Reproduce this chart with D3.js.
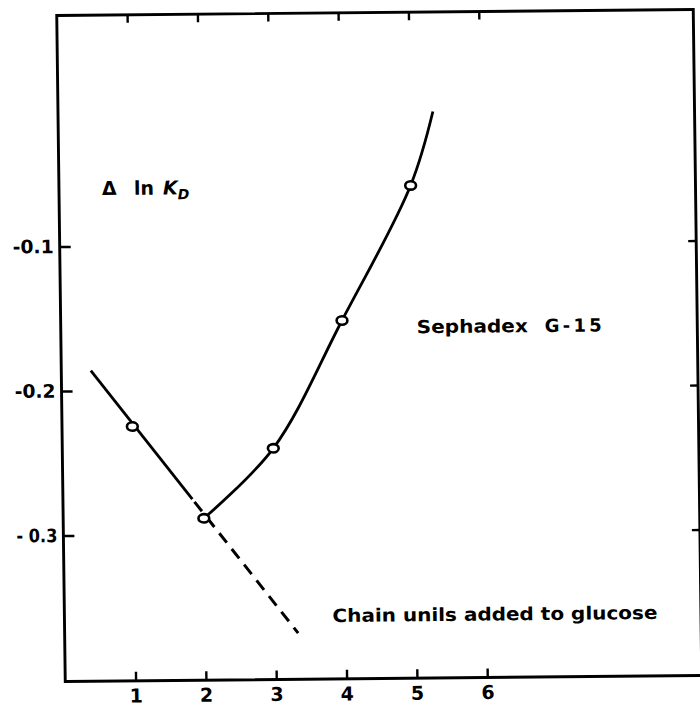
<!DOCTYPE html>
<html><head><meta charset="utf-8">
<script src="https://cdn.jsdelivr.net/npm/d3@7"></script>
<style>
html,body{margin:0;padding:0;background:#fff;}
svg{display:block;}
text{font-family:"DejaVu Sans",sans-serif;font-weight:700;fill:#000;}
</style></head><body>
<svg id="chart" width="700" height="706"></svg>
<script>
// Measured points: chain units added to glucose vs change in ln K_D
const chainUnits = [1, 2, 3, 4, 5];
const deltaLnKd = [-0.225, -0.289, -0.241, -0.153, -0.060];

// Straight line through the low-chain points (solid), and its dashed extrapolation
const lineSolidX = [0.42, 1.84];
const lineSolidY = [-0.186, -0.2756];
const lineDashX = [1.87, 3.32];
const lineDashY = [-0.2775, -0.369];

// Smooth curve through the higher-chain points
const curveX = [2, 3, 4, 5, 5.33];
const curveY = [-0.289, -0.241, -0.153, -0.060, -0.009];

// Axis ticks
const xTicks = [1, 2, 3, 4, 5, 6];
const xTickLabels = ["1", "2", "3", "4", "5", "6"];
const yTicks = [-0.1, -0.2, -0.3];
const yTickLabels = ["-0.1", "-0.2", "- 0.3"];

const W = 636.5, H = 666;
const svg = d3.select("#chart");
// the plotting frame sits slightly tilted on the page
const g = svg.append("g")
  .attr("transform", "matrix(1,-0.00943,0.01276,1,56.75,15.5)");

const x = d3.scaleLinear().domain([0, 9.05]).range([0, W]);
const y = d3.scaleLinear().domain([-0.401, 0.0599]).range([H, 0]);

const ink = "#000";
const sw = 2.8;

// frame
g.append("rect").attr("x", 0).attr("y", 0).attr("width", W).attr("height", H)
  .attr("fill", "none").attr("stroke", ink).attr("stroke-width", 2.9);

function styleAxis(sel) {
  sel.select(".domain").remove();
  sel.attr("font-family", null).attr("font-size", null);
  sel.selectAll(".tick line").attr("stroke", ink).attr("stroke-width", 2.4);
}

// bottom axis with labels
const xb = g.append("g").attr("transform", `translate(0,${H})`)
  .call(d3.axisBottom(x).tickValues(xTicks).tickSizeInner(-9).tickSizeOuter(0).tickPadding(8)
    .tickFormat((d, i) => xTickLabels[i]));
styleAxis(xb);
xb.selectAll(".tick text").style("font-size", "19px").style("fill", ink);

// top axis ticks only
const xt = g.append("g")
  .call(d3.axisTop(x).tickValues(xTicks).tickSizeInner(-8).tickSizeOuter(0).tickFormat(""));
styleAxis(xt);

// left axis with labels
const yl = g.append("g")
  .call(d3.axisLeft(y).tickValues(yTicks).tickSizeInner(-11).tickSizeOuter(0).tickPadding(6)
    .tickFormat((d, i) => yTickLabels[i]));
styleAxis(yl);
yl.selectAll(".tick text").style("font-size", "18.5px").style("fill", ink)
  .attr("textLength", 41).attr("lengthAdjust", "spacingAndGlyphs");

// right axis ticks only
const yr = g.append("g").attr("transform", `translate(${W},0)`)
  .call(d3.axisRight(y).tickValues(yTicks).tickSizeInner(-8).tickSizeOuter(0).tickFormat(""));
styleAxis(yr);

const line = d3.line().x(d => x(d[0])).y(d => y(d[1]));
const curve = d3.line().x(d => x(d[0])).y(d => y(d[1])).curve(d3.curveCatmullRom.alpha(0.5));

g.append("path").datum(lineSolidX.map((v, i) => [v, lineSolidY[i]]))
  .attr("d", line).attr("fill", "none").attr("stroke", ink).attr("stroke-width", sw);
g.append("path").datum(lineDashX.map((v, i) => [v, lineDashY[i]]))
  .attr("d", line).attr("fill", "none").attr("stroke", ink).attr("stroke-width", 3)
  .attr("stroke-dasharray", "12,8");
g.append("path").datum(curveX.map((v, i) => [v, curveY[i]]))
  .attr("d", curve).attr("fill", "none").attr("stroke", ink).attr("stroke-width", sw);

// open markers
g.selectAll("ellipse.pt").data(chainUnits.map((v, i) => [v, deltaLnKd[i]]))
  .join("ellipse").attr("class", "pt")
  .attr("cx", d => x(d[0])).attr("cy", d => y(d[1]))
  .attr("rx", 5.4).attr("ry", 4.2)
  .attr("fill", "#fff").attr("stroke", ink).attr("stroke-width", 2.6);

// axis title for the ordinate
const t1 = g.append("text").attr("x", 43).attr("y", 180).style("font-size", "19px");
t1.append("tspan").text("Δ");
t1.append("tspan").attr("x", 75).text("ln ");
t1.append("tspan").attr("x", 104).attr("font-style", "italic").text("K");
t1.append("tspan").attr("dy", 5).style("font-size", "14px").attr("font-style", "italic").text("D");

// gel label
const t2 = g.append("text").attr("x", 356).attr("y", 321).style("font-size", "18px");
t2.append("tspan").attr("textLength", 111).attr("lengthAdjust", "spacingAndGlyphs").text("Sephadex");
t2.append("tspan").text(" ");
t2.append("tspan").attr("x", 484).attr("textLength", 57).attr("lengthAdjust", "spacing").text("G-15");

// abscissa title
g.append("text").attr("x", 268).attr("y", 609).style("font-size", "18px")
  .attr("textLength", 325).attr("lengthAdjust", "spacingAndGlyphs")
  .text("Chain unils added to glucose");
</script>
</body></html>
